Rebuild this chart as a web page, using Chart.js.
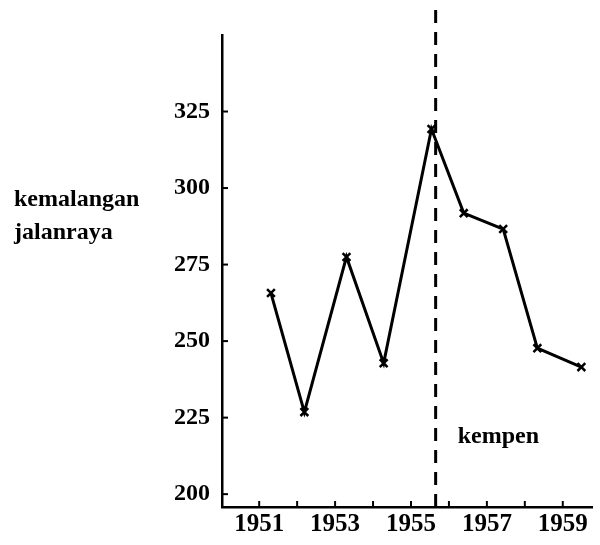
<!DOCTYPE html>
<html>
<head>
<meta charset="utf-8">
<script src="https://cdn.jsdelivr.net/npm/chart.js@4/dist/chart.umd.min.js"></script>
<style>
  html, body { margin: 0; padding: 0; background: #fff; }
  #wrap { width: 600px; height: 545px; position: relative; }
</style>
</head>
<body>
<div id="wrap"><canvas id="c" width="600" height="545"></canvas></div>
<script>
// Data
const yearsX     = [1951.31, 1952.19, 1953.30, 1954.28, 1955.54, 1956.39, 1957.43, 1958.33, 1959.49];
const accidents  = [265.7, 226.8, 277.5, 242.8, 319.3, 291.8, 286.6, 247.7, 241.5];
const xTickYears = [1951, 1952, 1953, 1954, 1955, 1956, 1957, 1958, 1959];
const xTickLabels = ['1951', '', '1953', '', '1955', '', '1957', '', '1959'];
const yTickValues = [200, 225, 250, 275, 300, 325];
const campaignYear = 1955.65;
const campaignLabel = 'kempen';
const yTitleLines = ['kemalangan', 'jalanraya'];

const FONT = '"Liberation Serif", serif';

const overlay = {
  id: 'overlay',
  afterDraw(chart) {
    const { ctx, scales: { x, y }, chartArea } = chart;
    ctx.save();
    ctx.strokeStyle = '#000';
    ctx.lineWidth = 2;
    // inner tick marks
    yTickValues.forEach(v => {
      const py = y.getPixelForValue(v);
      ctx.beginPath(); ctx.moveTo(chartArea.left, py); ctx.lineTo(chartArea.left + 6, py); ctx.stroke();
    });
    xTickYears.forEach(v => {
      const px = x.getPixelForValue(v);
      ctx.beginPath(); ctx.moveTo(px, chartArea.bottom); ctx.lineTo(px, chartArea.bottom - 6); ctx.stroke();
    });
    // campaign dashed line
    const cx = x.getPixelForValue(campaignYear);
    ctx.lineWidth = 3;
    ctx.setLineDash([13, 9]);
    ctx.beginPath(); ctx.moveTo(cx, 10); ctx.lineTo(cx, chartArea.bottom + 4); ctx.stroke();
    ctx.setLineDash([]);
    // labels
    ctx.fillStyle = '#000';
    ctx.font = 'bold 24px ' + FONT;
    ctx.textBaseline = 'middle';
    ctx.textAlign = 'left';
    ctx.fillText(campaignLabel, cx + 22, y.getPixelForValue(218.6));
    ctx.fillText(yTitleLines[0], 14, 200);
    ctx.fillText(yTitleLines[1], 14, 233);
    ctx.restore();
  }
};

new Chart(document.getElementById('c'), {
  type: 'line',
  data: {
    datasets: [{
      data: yearsX.map((xv, i) => ({ x: xv, y: accidents[i] })),
      borderColor: '#000',
      borderWidth: 3,
      pointStyle: 'crossRot',
      pointRadius: 5.5,
      pointBorderWidth: 2.5,
      pointBorderColor: '#000',
      pointBackgroundColor: '#000',
      tension: 0,
      fill: false
    }]
  },
  options: {
    responsive: false,
    animation: false,
    devicePixelRatio: 1,
    layout: { padding: { left: 0, top: 35, right: 2, bottom: 0 } },
    plugins: { legend: { display: false }, tooltip: { enabled: false } },
    scales: {
      x: {
        type: 'linear',
        min: 1950.02,
        max: 1959.77,
        afterBuildTicks: axis => { axis.ticks = xTickYears.map(v => ({ value: v })); },
        afterFit: axis => { axis.height = 38; },
        grid: { display: true, drawOnChartArea: false, drawTicks: false },
        border: { display: true, color: '#000', width: 2.5 },
        ticks: {
          color: '#000',
          padding: 3,
          font: { family: FONT, size: 25, weight: 'bold' },
          maxRotation: 0,
          autoSkip: false,
          callback: (v) => { const i = xTickYears.indexOf(v); return i >= 0 ? xTickLabels[i] : ''; }
        }
      },
      y: {
        min: 195.8,
        max: 350,
        afterBuildTicks: axis => { axis.ticks = yTickValues.map(v => ({ value: v })); },
        afterFit: axis => { axis.width = 222; },
        grid: { display: true, drawOnChartArea: false, drawTicks: false },
        border: { display: true, color: '#000', width: 2.5 },
        ticks: {
          color: '#000',
          padding: 12,
          font: { family: FONT, size: 24, weight: 'bold' },
          callback: v => String(v)
        }
      }
    }
  },
  plugins: [overlay]
});
</script>
</body>
</html>
